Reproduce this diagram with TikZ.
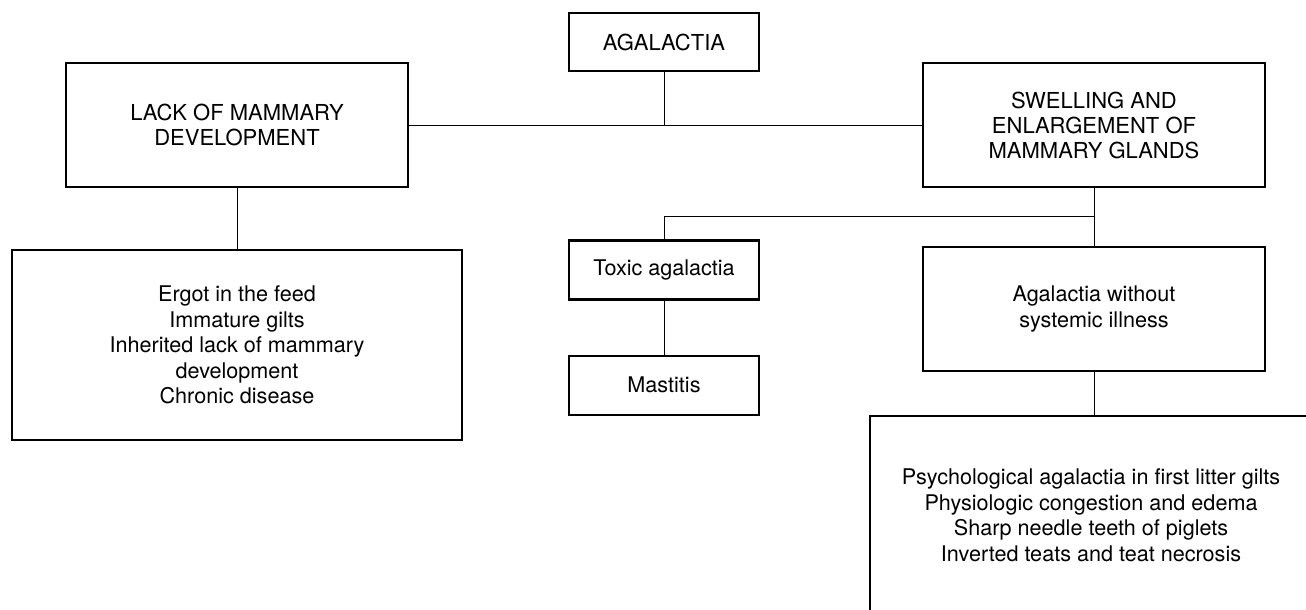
\documentclass[tikz,border=0pt]{standalone}
\usepackage{fontspec}
\setmainfont{TeX Gyre Heros}
\usetikzlibrary{positioning}

\begin{document}
\begin{tikzpicture}[
    x=1pt, y=-1pt,
    box/.style={draw, line width=2.2pt, align=center, inner sep=0pt},
    headbox/.style={box, font=\fontsize{22}{25}\selectfont},
    listbox/.style={box, font=\fontsize{21.6}{25.5}\selectfont},
    link/.style={line width=1pt}
]
\useasboundingbox (0,0) rectangle (1306,610);
\node[headbox, minimum width=190pt, minimum height=58pt] (agal) at (664,42) {AGALACTIA};
\node[headbox, minimum width=342pt, minimum height=124pt] (lack) at (237,125) {LACK OF MAMMARY\\DEVELOPMENT};
\node[headbox, minimum width=342pt, minimum height=124pt] (swell) at (1094,125) {SWELLING AND\\ENLARGEMENT OF\\MAMMARY GLANDS};
\node[listbox, minimum width=450pt, minimum height=190pt, below=61pt of lack] (causesL)
    {Ergot in the feed\\Immature gilts\\Inherited lack of mammary\\development\\Chronic disease};
\node[listbox, minimum width=190pt, minimum height=59pt] (toxic) at (664,270) {Toxic agalactia};
\node[listbox, minimum width=190pt, minimum height=59pt, below=54pt of toxic] (mast) {Mastitis};
\node[listbox, minimum width=342pt, minimum height=124pt, below=58pt of swell] (nosys) {Agalactia without\\systemic illness};
% open frame, cut off by the page edge
\coordinate (rtop) at (870,416);
\node[listbox, draw=none] (causesR) at (1091,515)
    {Psychological agalactia in first litter gilts\\Physiologic congestion and edema\\Sharp needle teeth of piglets\\Inverted teats and teat necrosis};
\draw[line width=2.2pt] (1306,416) -- (rtop) -- (rtop |- 0,610);
% connectors
\coordinate (fork) at (swell.south |- 0,216);
\draw[link] (lack) -- (swell);
\draw[link] (agal) -- (agal.south |- lack.east);
\draw[link] (lack) -- (causesL);
\draw[link] (swell) -- (nosys);
\draw[link] (toxic.north) |- (fork);
\draw[link] (toxic) -- (mast);
\draw[link] (nosys.south) -- (nosys.south |- rtop);
\end{tikzpicture}
\end{document}
